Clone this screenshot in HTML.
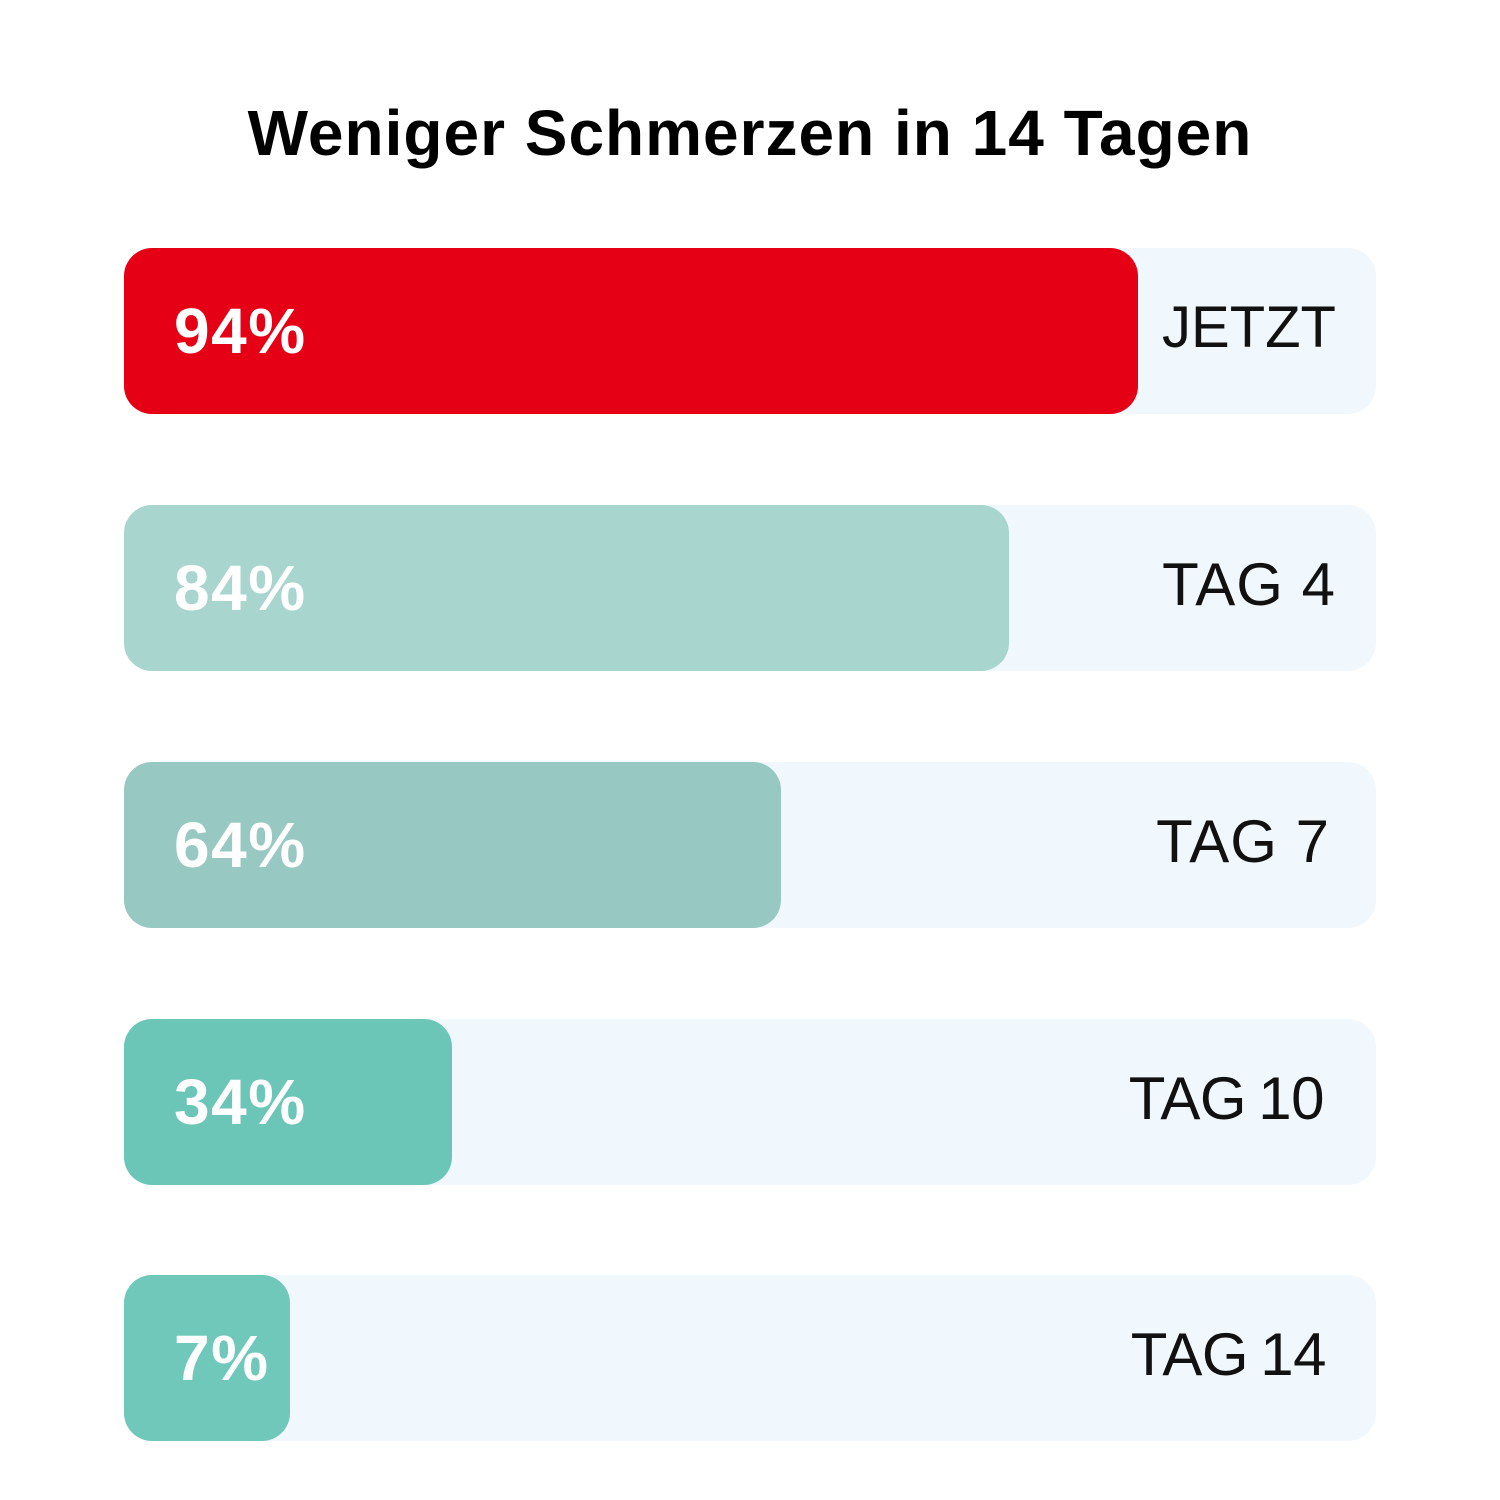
<!DOCTYPE html>
<html><head><meta charset="utf-8"><style>
body{margin:0;width:1500px;height:1500px;background:#fff;position:relative;font-family:"Liberation Sans",sans-serif;overflow:hidden}
.t{position:absolute;left:0;width:1500px;top:96px;text-align:center;font-size:64px;font-weight:bold;color:#000;letter-spacing:1px}
.track{position:absolute;left:124px;width:1252px;height:166px;background:#F1F8FD;border-radius:28px}
.fill{position:absolute;left:0;top:0;height:166px;border-radius:28px}
.p{position:absolute;left:50px;top:0;line-height:166px;font-size:64px;font-weight:bold;color:#fff;letter-spacing:1.5px}
.l{position:absolute;right:40px;top:0;line-height:160px;font-size:60px;color:#111;letter-spacing:1px}
</style></head><body>
<div class="t">Weniger Schmerzen in 14 Tagen</div>
<div class="track" style="top:248px"><div class="fill" style="width:1014px;background:#E60016"></div><div class="p">94%</div><div class="l" style="font-size:58px;letter-spacing:0">JETZT</div></div>
<div class="track" style="top:505px"><div class="fill" style="width:885px;background:#A8D5CE"></div><div class="p">84%</div><div class="l">TAG 4</div></div>
<div class="track" style="top:762px"><div class="fill" style="width:657px;background:#97C8C1"></div><div class="p">64%</div><div class="l" style="right:46px">TAG 7</div></div>
<div class="track" style="top:1019px"><div class="fill" style="width:328px;background:#6CC6B8"></div><div class="p">34%</div><div class="l" style="right:52px;letter-spacing:-0.5px;word-spacing:-4px">TAG 10</div></div>
<div class="track" style="top:1275px"><div class="fill" style="width:166px;background:#6FC8BA"></div><div class="p">7%</div><div class="l" style="right:50px;letter-spacing:-0.5px;word-spacing:-4px">TAG 14</div></div>
</body></html>
